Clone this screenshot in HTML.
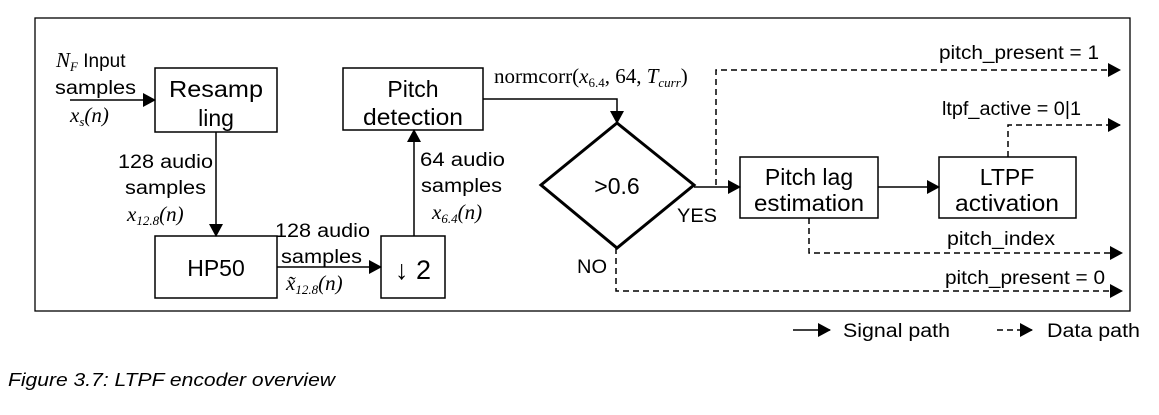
<!DOCTYPE html>
<html><head><meta charset="utf-8"><style>
body{margin:0;background:#fff;width:1159px;height:415px;overflow:hidden}
svg{display:block}
text{font-family:"Liberation Sans",sans-serif;fill:#000}
.s{font-family:"Liberation Serif",serif;font-style:italic}
.r{font-family:"Liberation Serif",serif}
</style></head><body>
<svg width="1159" height="415" viewBox="0 0 1159 415">
<defs>
<marker id="a" markerWidth="13" markerHeight="14" refX="12" refY="7" orient="auto" markerUnits="userSpaceOnUse"><path d="M0,0 L13,7 L0,14 z"/></marker>
</defs>
<rect x="35" y="18" width="1095" height="293" fill="none" stroke="#000" stroke-width="1.3"/>
<g fill="none" stroke="#000" stroke-width="1.5">
<rect x="155" y="68" width="122" height="64"/>
<rect x="343" y="68" width="140" height="62"/>
<rect x="155" y="236" width="122" height="62"/>
<rect x="381" y="236" width="64" height="62"/>
<rect x="740" y="157" width="138" height="61"/>
<rect x="939" y="157" width="137" height="61"/>
<path d="M617,123 L694,185 L617,248 L541,185 Z" stroke-width="3"/>
<path d="M70,100 H155" marker-end="url(#a)"/>
<path d="M216,132 V236" marker-end="url(#a)"/>
<path d="M277,267 H381" marker-end="url(#a)"/>
<path d="M414,236 V130" marker-end="url(#a)"/>
<path d="M483,99 H617 V123" marker-end="url(#a)"/>
<path d="M694,187 H740" marker-end="url(#a)"/>
<path d="M878,187 H939" marker-end="url(#a)"/>
<path d="M793,330 H830" marker-end="url(#a)"/>
</g>
<g fill="none" stroke="#000" stroke-width="1.5" stroke-dasharray="6,4">
<path d="M716,185 V70 H1120" marker-end="url(#a)"/>
<path d="M1008,157 V125 H1120" marker-end="url(#a)"/>
<path d="M809,218 V253 H1122" marker-end="url(#a)"/>
<path d="M616,248 V291 H1122" marker-end="url(#a)"/>
<path d="M997,330 H1032" marker-end="url(#a)"/>
</g>
<g font-size="23" text-anchor="middle">
<text x="216" y="97" textLength="94" lengthAdjust="spacingAndGlyphs">Resamp</text><text x="216" y="126">ling</text>
<text x="413" y="97">Pitch</text><text x="413" y="125" textLength="100" lengthAdjust="spacingAndGlyphs">detection</text>
<text x="216" y="276">HP50</text>
<text x="413" y="279" font-size="27">↓ 2</text>
<text x="617" y="194">&gt;0.6</text>
<text x="809" y="185">Pitch lag</text><text x="809" y="211" textLength="110" lengthAdjust="spacingAndGlyphs">estimation</text>
<text x="1007" y="185">LTPF</text><text x="1007" y="211" textLength="104" lengthAdjust="spacingAndGlyphs">activation</text>
</g>
<g font-size="19">
<text x="56" y="67"><tspan class="s" font-size="21">N</tspan><tspan class="s" font-size="13" dy="4">F</tspan><tspan dy="-4"> Input</tspan></text>
<text x="55" y="94" textLength="81" lengthAdjust="spacingAndGlyphs">samples</text>
<text x="70" y="122" class="s" font-size="21">x<tspan font-size="13" dy="4">s</tspan><tspan dy="-4" class="r">(</tspan>n<tspan class="r">)</tspan></text>
<text x="118" y="168" textLength="95" lengthAdjust="spacingAndGlyphs">128 audio</text>
<text x="125" y="194" textLength="81" lengthAdjust="spacingAndGlyphs">samples</text>
<text x="127" y="221" class="s" font-size="21">x<tspan class="r" font-size="13" dy="4">12.8</tspan><tspan dy="-4" class="r">(</tspan>n<tspan class="r">)</tspan></text>
<text x="275" y="237" textLength="95" lengthAdjust="spacingAndGlyphs">128 audio</text>
<text x="281" y="263" textLength="81" lengthAdjust="spacingAndGlyphs">samples</text>
<text x="286" y="290" class="s" font-size="21">x̃<tspan class="r" font-size="13" dy="4">12.8</tspan><tspan dy="-4" class="r">(</tspan>n<tspan class="r">)</tspan></text>
<text x="420" y="166" textLength="85" lengthAdjust="spacingAndGlyphs">64 audio</text>
<text x="421" y="192" textLength="81" lengthAdjust="spacingAndGlyphs">samples</text>
<text x="432" y="219" class="s" font-size="21">x<tspan class="r" font-size="13" dy="4">6.4</tspan><tspan dy="-4" class="r">(</tspan>n<tspan class="r">)</tspan></text>
<text x="494" y="83" class="r" font-size="21">normcorr(<tspan class="s">x</tspan><tspan font-size="13" dy="4">6.4</tspan><tspan dy="-4">, 64, </tspan><tspan class="s">T</tspan><tspan class="s" font-size="13" dy="4">curr</tspan><tspan dy="-4">)</tspan></text>
<text x="677" y="222" textLength="40" lengthAdjust="spacingAndGlyphs">YES</text>
<text x="577" y="273" textLength="30" lengthAdjust="spacingAndGlyphs">NO</text>
<text x="939" y="59" textLength="160" lengthAdjust="spacingAndGlyphs">pitch_present = 1</text>
<text x="942" y="115" textLength="139" lengthAdjust="spacingAndGlyphs">ltpf_active = 0|1</text>
<text x="947" y="245" textLength="108" lengthAdjust="spacingAndGlyphs">pitch_index</text>
<text x="945" y="284" textLength="160" lengthAdjust="spacingAndGlyphs">pitch_present = 0</text>
<text x="843" y="337" textLength="107" lengthAdjust="spacingAndGlyphs">Signal path</text>
<text x="1047" y="337" textLength="93" lengthAdjust="spacingAndGlyphs">Data path</text>
<text x="8" y="386" font-style="italic" font-size="18" textLength="327" lengthAdjust="spacingAndGlyphs">Figure 3.7: LTPF encoder overview</text>
</g>
</svg>
</body></html>
